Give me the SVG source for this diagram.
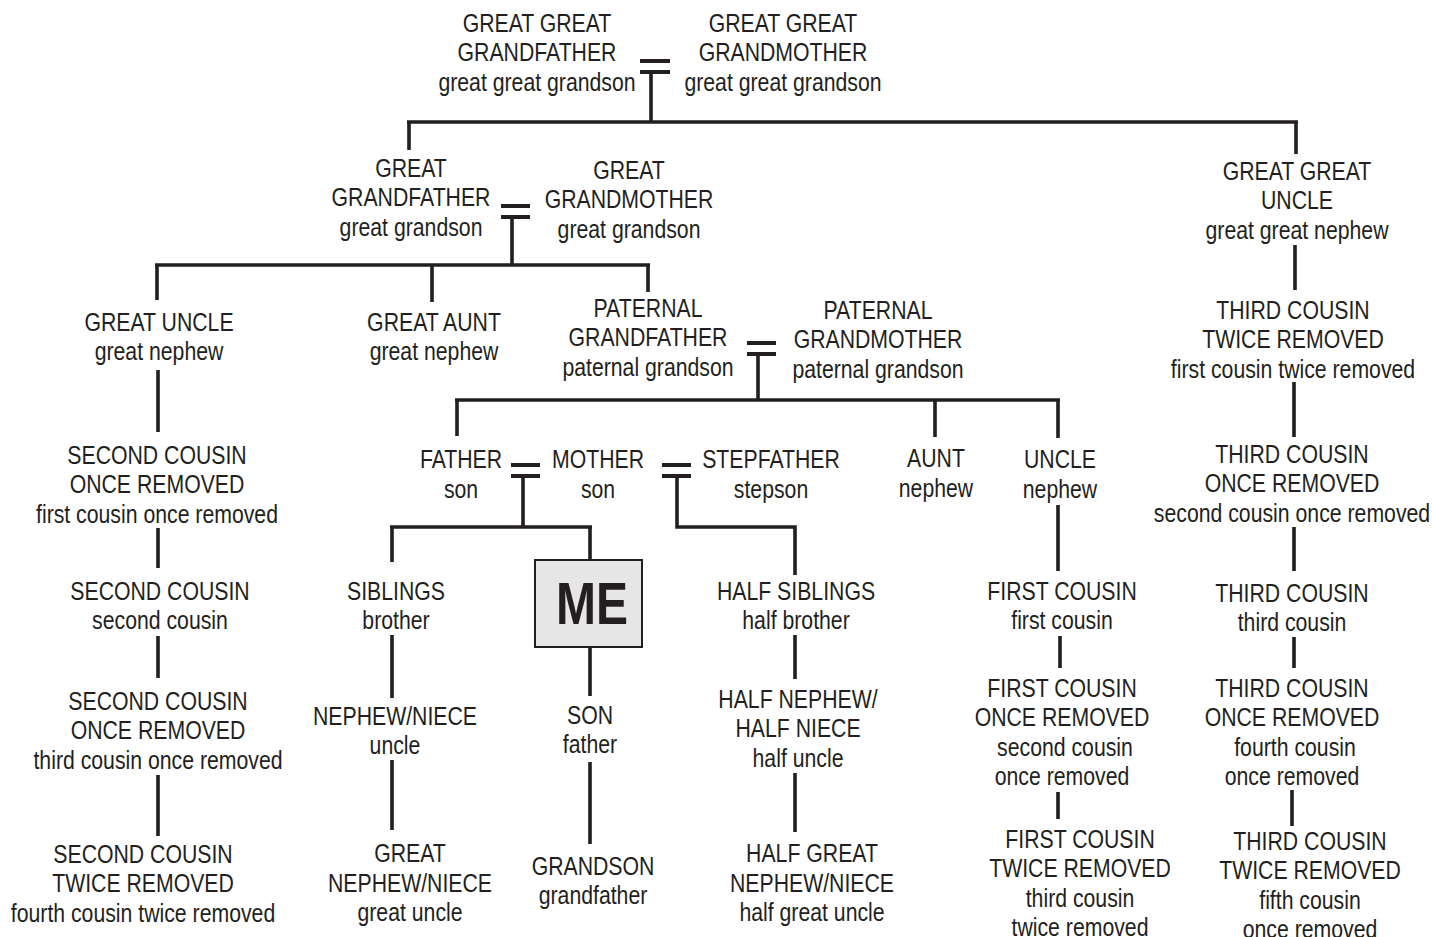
<svg xmlns="http://www.w3.org/2000/svg" width="1432" height="937" viewBox="0 0 1432 937">
<style>
text{font-family:"Liberation Sans",Arial,sans-serif;font-size:25px;fill:#231f20;text-anchor:middle}
.c{stroke:#231f20;stroke-width:3.6;fill:none;stroke-linecap:butt}
.bar{stroke:#231f20;stroke-width:4.2;fill:none}
.me{font-family:"Liberation Sans",Arial,sans-serif;font-weight:bold;font-size:60px}
</style>
<rect width="1432" height="937" fill="#fff"/>
<g id="connectors">
<path class="bar" d="M640 61H670M640 72H670"/>
<path class="c" d="M651 72V122M407 122H1298M409 122V150M1296 122V154"/>
<path class="bar" d="M501 206H530M501 217H530"/>
<path class="c" d="M512 217V265M155 265H650M157 265V300M432 265V302M648 265V292"/>
<path class="bar" d="M747 343H776M747 354H776"/>
<path class="c" d="M758 354V400M455 400H1060M457 400V436M935 400V437M1058 400V438"/>
<path class="bar" d="M511 465H540M511 476H540"/>
<path class="c" d="M523 476V527M390 527H592M392 527V562M590 527V560"/>
<path class="bar" d="M662 465H691M662 476H691"/>
<path class="c" d="M677 476V527H795V575"/>
<path class="c" d="M1295 245V290M1294 382V437M1294 527V571M1294 637V668M1292 790V826"/>
<path class="c" d="M158 370V432M158 528V568M158 636V678M158 775V836"/>
<path class="c" d="M392 635V698M392 760V830"/>
<path class="c" d="M590 647V696M590 762V844"/>
<path class="c" d="M795 635V679M795 773V832"/>
<path class="c" d="M1058 505V571M1060 636V668M1058 792V819"/>
</g>
<g id="ggf" transform="translate(537 0) scale(.85 1)"><text y="32">GREAT GREAT<tspan x="0" dy="29.5">GRANDFATHER</tspan><tspan x="0" dy="29.5">great great grandson</tspan></text></g>
<g id="ggm" transform="translate(783 0) scale(.85 1)"><text y="32">GREAT GREAT<tspan x="0" dy="29.5">GRANDMOTHER</tspan><tspan x="0" dy="29.5">great great grandson</tspan></text></g>
<g id="gf" transform="translate(411 0) scale(.85 1)"><text y="177">GREAT<tspan x="0" dy="29.5">GRANDFATHER</tspan><tspan x="0" dy="29.5">great grandson</tspan></text></g>
<g id="gm" transform="translate(629 0) scale(.85 1)"><text y="179">GREAT<tspan x="0" dy="29.5">GRANDMOTHER</tspan><tspan x="0" dy="29.5">great grandson</tspan></text></g>
<g id="ggu" transform="translate(1297 0) scale(.85 1)"><text y="180">GREAT GREAT<tspan x="0" dy="29.5">UNCLE</tspan><tspan x="0" dy="29.5">great great nephew</tspan></text></g>
<g id="gu" transform="translate(159 0) scale(.85 1)"><text y="331">GREAT UNCLE<tspan x="0" dy="29.5">great nephew</tspan></text></g>
<g id="ga" transform="translate(434 0) scale(.85 1)"><text y="331">GREAT AUNT<tspan x="0" dy="29.5">great nephew</tspan></text></g>
<g id="pgf" transform="translate(648 0) scale(.85 1)"><text y="317">PATERNAL<tspan x="0" dy="29.5">GRANDFATHER</tspan><tspan x="0" dy="29.5">paternal grandson</tspan></text></g>
<g id="pgm" transform="translate(878 0) scale(.85 1)"><text y="319">PATERNAL<tspan x="0" dy="29.5">GRANDMOTHER</tspan><tspan x="0" dy="29.5">paternal grandson</tspan></text></g>
<g id="tc2r-a" transform="translate(1293 0) scale(.85 1)"><text y="319">THIRD COUSIN<tspan x="0" dy="29.5">TWICE REMOVED</tspan><tspan x="0" dy="29.5">first cousin twice removed</tspan></text></g>
<g id="sc1r-a" transform="translate(157 0) scale(.85 1)"><text y="464">SECOND COUSIN<tspan x="0" dy="29.5">ONCE REMOVED</tspan><tspan x="0" dy="29.5">first cousin once removed</tspan></text></g>
<g id="father" transform="translate(461 0) scale(.85 1)"><text y="468">FATHER<tspan x="0" dy="30">son</tspan></text></g>
<g id="mother" transform="translate(598 0) scale(.85 1)"><text y="468">MOTHER<tspan x="0" dy="30">son</tspan></text></g>
<g id="stepfather" transform="translate(771 0) scale(.85 1)"><text y="468">STEPFATHER<tspan x="0" dy="30">stepson</tspan></text></g>
<g id="aunt" transform="translate(936 0) scale(.85 1)"><text y="467">AUNT<tspan x="0" dy="30">nephew</tspan></text></g>
<g id="uncle" transform="translate(1060 0) scale(.85 1)"><text y="468">UNCLE<tspan x="0" dy="30">nephew</tspan></text></g>
<g id="tc1r-a" transform="translate(1292 0) scale(.85 1)"><text y="463">THIRD COUSIN<tspan x="0" dy="29.5">ONCE REMOVED</tspan><tspan x="0" dy="29.5">second cousin once removed</tspan></text></g>
<g id="sc" transform="translate(160 0) scale(.85 1)"><text y="600">SECOND COUSIN<tspan x="0" dy="29.5">second cousin</tspan></text></g>
<g id="siblings" transform="translate(396 0) scale(.85 1)"><text y="600">SIBLINGS<tspan x="0" dy="29.5">brother</tspan></text></g>
<g id="me"><rect x="535" y="560" width="107" height="87" fill="#e6e6e6" stroke="#231f20" stroke-width="2"/><g transform="translate(592 0) scale(.8 1)"><text class="me" x="0" y="624">ME</text></g></g>
<g id="halfsib" transform="translate(796 0) scale(.85 1)"><text y="600">HALF SIBLINGS<tspan x="0" dy="29.5">half brother</tspan></text></g>
<g id="fc" transform="translate(1062 0) scale(.85 1)"><text y="600">FIRST COUSIN<tspan x="0" dy="29.5">first cousin</tspan></text></g>
<g id="tc" transform="translate(1292 0) scale(.85 1)"><text y="602">THIRD COUSIN<tspan x="0" dy="29.5">third cousin</tspan></text></g>
<g id="sc1r-b" transform="translate(158 0) scale(.85 1)"><text y="710">SECOND COUSIN<tspan x="0" dy="29.5">ONCE REMOVED</tspan><tspan x="0" dy="29.5">third cousin once removed</tspan></text></g>
<g id="nephew" transform="translate(395 0) scale(.85 1)"><text y="725">NEPHEW/NIECE<tspan x="0" dy="29.5">uncle</tspan></text></g>
<g id="son" transform="translate(590 0) scale(.85 1)"><text y="724">SON<tspan x="0" dy="29.5">father</tspan></text></g>
<g id="halfnephew" transform="translate(798 0) scale(.85 1)"><text y="708">HALF NEPHEW/<tspan x="0" dy="29.5">HALF NIECE</tspan><tspan x="0" dy="29.5">half uncle</tspan></text></g>
<g id="fc1r" transform="translate(1062 0) scale(.85 1)"><text y="697">FIRST COUSIN<tspan x="0" dy="29.5">ONCE REMOVED</tspan><tspan x="3.5" dy="29.5">second cousin</tspan><tspan x="0" dy="29.5">once removed</tspan></text></g>
<g id="tc1r-b" transform="translate(1292 0) scale(.85 1)"><text y="697">THIRD COUSIN<tspan x="0" dy="29.5">ONCE REMOVED</tspan><tspan x="3.5" dy="29.5">fourth cousin</tspan><tspan x="0" dy="29.5">once removed</tspan></text></g>
<g id="sc2r" transform="translate(143 0) scale(.85 1)"><text y="863">SECOND COUSIN<tspan x="0" dy="29.5">TWICE REMOVED</tspan><tspan x="0" dy="29.5">fourth cousin twice removed</tspan></text></g>
<g id="gnephew" transform="translate(410 0) scale(.85 1)"><text y="862">GREAT<tspan x="0" dy="29.5">NEPHEW/NIECE</tspan><tspan x="0" dy="29.5">great uncle</tspan></text></g>
<g id="grandson" transform="translate(593 0) scale(.85 1)"><text y="875">GRANDSON<tspan x="0" dy="29.5">grandfather</tspan></text></g>
<g id="hgnephew" transform="translate(812 0) scale(.85 1)"><text y="862">HALF GREAT<tspan x="0" dy="29.5">NEPHEW/NIECE</tspan><tspan x="0" dy="29.5">half great uncle</tspan></text></g>
<g id="fc2r" transform="translate(1080 0) scale(.85 1)"><text y="848">FIRST COUSIN<tspan x="0" dy="29.5">TWICE REMOVED</tspan><tspan x="0" dy="29.5">third cousin</tspan><tspan x="0" dy="29.5">twice removed</tspan></text></g>
<g id="tc2r-b" transform="translate(1310 0) scale(.85 1)"><text y="850">THIRD COUSIN<tspan x="0" dy="29.5">TWICE REMOVED</tspan><tspan x="0" dy="29.5">fifth cousin</tspan><tspan x="0" dy="29.5">once removed</tspan></text></g>
</svg>
